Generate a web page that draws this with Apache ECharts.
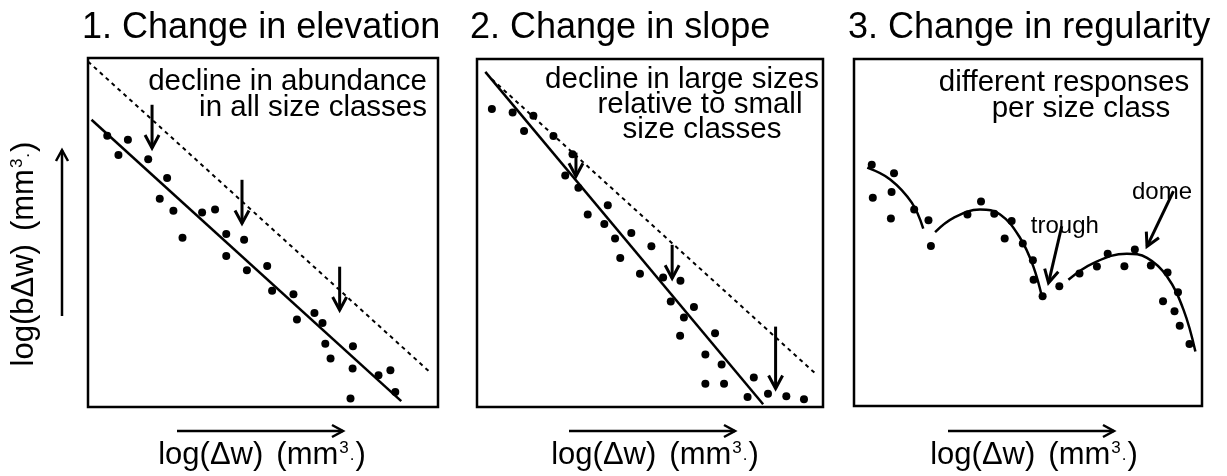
<!DOCTYPE html>
<html>
<head>
<meta charset="utf-8">
<script src="https://cdn.jsdelivr.net/npm/echarts@6/dist/echarts.min.js"></script>
<style>html,body{margin:0;padding:0;background:#fff}#c{width:1227px;height:476px}</style>
</head>
<body>
<div id="c"></div>
<script>
// ---------- data (axis units 0..100 in each panel) ----------
const titles = ['1. Change in elevation', '2. Change in slope', '3. Change in regularity'];
const xLabel = 'log(Δw)';
const yLabel = 'log(bΔw)';
const unitLabel = '(mm';

// Panel 1 : change in elevation
const p1Dots = [[5.5,77.7],[11.4,76.6],[8.7,72.2],[17.2,71.0],[22.6,65.6],[20.5,59.7],[24.4,56.2],[32.6,55.7],[36.3,56.6],[27.0,48.5],[39.5,49.6],[44.6,47.9],[39.5,43.3],[45.4,39.2],[51.2,40.4],[52.6,33.3],[58.7,32.3],[59.7,25.1],[64.7,26.9],[67.0,24.1],[67.8,18.1],[75.7,17.4],[69.3,13.9],[75.6,11.0],[83.0,9.1],[86.4,10.5],[87.8,4.3],[75.0,2.4]];
const p1Fit = [[1.0,82.3],[89.5,1.7]];
const p1Ref = [[0,99.0],[98.0,9.7]];
const p1Arrows = [[18.3,86.6,18.3,74.2],[44.0,65.1,44.0,52.6],[71.9,40.2,71.9,27.8]];
const p1Note = ['decline in abundance', 'in all size classes'];

// Panel 2 : change in slope
const p2Dots = [[4.3,85.6],[10.3,84.6],[16.3,83.7],[13.6,79.3],[22.1,77.9],[27.6,72.6],[25.5,66.5],[29.3,63.0],[37.8,58.0],[32.0,55.3],[36.8,52.6],[44.6,50.0],[39.9,48.4],[50.4,46.2],[41.4,42.8],[47.1,38.3],[53.8,37.2],[58.8,36.3],[56.0,30.3],[62.7,28.7],[59.8,25.7],[68.8,21.2],[58.7,20.5],[66.0,15.1],[70.7,12.2],[80.0,8.5],[66.0,6.7],[71.4,6.7],[78.2,2.9],[84.1,3.8],[89.4,3.1],[94.5,2.2]];
const p2Fit = [[2.4,96.3],[82.7,0.8]];
const p2Ref = [[4.3,94.2],[97.6,9.8]];
const p2Arrows = [[28.6,73.1,28.6,66.3],[56.4,46.6,56.4,37.0],[86.3,23.1,86.3,5.3]];
const p2Note = ['decline in large sizes', 'relative to small', 'size classes'];

// Panel 3 : change in regularity
const p3Dots = [[5.1,69.5],[11.5,67.1],[5.4,60.0],[10.8,61.7],[10.6,54.0],[17.3,56.6],[21.4,53.5],[22.1,46.1],[32.6,55.2],[36.5,58.9],[40.3,55.4],[45.3,53.3],[43.3,48.3],[48.5,46.8],[51.4,42.0],[51.6,36.4],[54.2,31.6],[59.0,34.5],[64.8,38.2],[69.8,40.2],[72.9,43.9],[77.7,40.3],[80.7,45.1],[85.3,40.5],[90.1,38.5],[93.1,32.8],[88.8,30.2],[92.1,27.3],[93.6,23.1],[96.4,17.9]];
const p3CurveA = [[3.8,68.7],[10.4,65.3],[16.6,58.6],[19.9,51.1]];
const p3CurveB = [[23.3,50.1],[28.6,54.2],[36.2,56.6],[42.0,55.2],[47.7,48.5],[51.5,40.3],[54.2,30.6]];
const p3CurveC = [[61.6,36.4],[68.8,41.2],[78.4,43.9],[84.2,42.7],[89.9,37.4],[94.7,27.7],[98.1,15.7]];
const p3Arrows = [[59.7,51.8,55.9,35.5],[91.8,61.9,84.2,46.0]];
const p3Note = ['different responses', 'per size class'];
const p3Labels = ['trough', 'dome'];
const p3LabelPos = [[60.6, 51.8], [88.5, 61.6]];

// ---------- layout ----------
const FONT = "'Liberation Sans', Arial, sans-serif";
const boxes = [
  {left: 88, top: 58, width: 350, height: 349},
  {left: 477, top: 59, width: 346, height: 348},
  {left: 854, top: 59, width: 348, height: 347}
];

const chart = echarts.init(document.getElementById('c'), null, {renderer: 'canvas'});

function arrowShape(x1, y1, x2, y2, L, W, lw) {
  const dx = x2 - x1, dy = y2 - y1;
  const len = Math.sqrt(dx * dx + dy * dy) || 1;
  const ux = dx / len, uy = dy / len;
  const nx = -uy, ny = ux;
  const bx = x2 - ux * L, by = y2 - uy * L;
  return [
    {type: 'line', shape: {x1: x1, y1: y1, x2: x2, y2: y2}, style: {stroke: '#000', lineWidth: lw}},
    {type: 'polyline', shape: {points: [[bx + nx * W, by + ny * W], [x2, y2], [bx - nx * W, by - ny * W]]},
     style: {stroke: '#000', lineWidth: lw, fill: null, lineJoin: 'miter'}}
  ];
}

function arrowSeries(data, idx) {
  return {
    type: 'custom', xAxisIndex: idx, yAxisIndex: idx, data: data,
    encode: {x: [0, 2], y: [1, 3]}, silent: true, clip: false,
    renderItem: function (params, api) {
      const a = api.coord([api.value(0), api.value(1)]);
      const b = api.coord([api.value(2), api.value(3)]);
      return {type: 'group', children: arrowShape(a[0], a[1], b[0], b[1], 13, 7, 3)};
    }
  };
}

function dots(data, idx) {
  return {type: 'scatter', xAxisIndex: idx, yAxisIndex: idx, data: data, symbol: 'circle', symbolSize: 8,
    itemStyle: {color: '#000', opacity: 1}, silent: true};
}
function line(data, idx, dashed, smooth) {
  return {type: 'line', xAxisIndex: idx, yAxisIndex: idx, data: data, symbol: 'none', smooth: smooth || false,
    lineStyle: {color: '#000', width: dashed ? 2 : 2.5, type: dashed ? [4, 4] : 'solid', opacity: 1},
    silent: true, clip: true};
}

const grids = boxes.map(b => ({left: b.left, top: b.top, width: b.width, height: b.height,
  show: true, borderColor: '#000', borderWidth: 2.5, backgroundColor: 'transparent'}));
const xAxes = boxes.map((b, i) => ({type: 'value', gridIndex: i, min: 0, max: 100, show: false}));
const yAxes = boxes.map((b, i) => ({type: 'value', gridIndex: i, min: 0, max: 100, show: false}));

// ---------- graphic texts / decorations ----------
const graphics = [];
function txt(t, x, y, size, align) {
  graphics.push({type: 'text', x: x, y: y, silent: true,
    style: {text: t, fill: '#000', font: size + 'px ' + FONT, textAlign: align || 'left', textVerticalAlign: 'middle'}});
}
// panel titles
txt(titles[0], 82, 28, 36);
txt(titles[1], 470, 28, 36);
txt(titles[2], 848, 28, 36);
// notes
txt(p1Note[0], 427, 82, 29.5, 'right');
txt(p1Note[1], 427, 108, 29.5, 'right');
txt(p2Note[0], 682, 80, 29.5, 'center');
txt(p2Note[1], 700, 105, 29.5, 'center');
txt(p2Note[2], 702, 130, 29.5, 'center');
txt(p3Note[0], 1064, 83, 29.5, 'center');
txt(p3Note[1], 1081, 109, 29.5, 'center');

const richUnits = {
  a: {fontSize: 31, fontFamily: FONT, fill: '#000'},
  b: {fontSize: 31, fontFamily: FONT, fill: '#000', padding: [0, 0, 0, 13]},
  c: {fontSize: 31, fontFamily: FONT, fill: '#000'},
  s: {fontSize: 17, fontFamily: FONT, fill: '#000', verticalAlign: 'top', padding: [0, 1, 12, 1]},
  d: {fontSize: 17, fontFamily: FONT, fill: '#000', padding: [0, 1, 0, 0]}
};
const unitText = '{a|' + '%L' + '}{b|' + unitLabel + '}{s|3}{d|.}{c|)}';
// x axis labels and arrows
const xCenters = [262, 655, 1034];
const arrowCenters = [260, 652, 1031];
xCenters.forEach((cx, i) => {
  graphics.push({type: 'text', x: cx, y: 455, silent: true,
    style: {text: unitText.replace('%L', xLabel), rich: richUnits,
      textAlign: 'center', textVerticalAlign: 'middle', fill: '#000'}});
  const ac = arrowCenters[i];
  graphics.push({type: 'group', silent: true, children: arrowShape(ac - 83, 431, ac + 83, 431, 11, 6, 2.5)});
});
// y axis label and arrow
graphics.push({type: 'text', x: 24, y: 254, rotation: Math.PI / 2, silent: true,
  style: {text: unitText.replace('%L', yLabel), rich: richUnits,
    textAlign: 'center', textVerticalAlign: 'middle', fill: '#000'}});
graphics.push({type: 'group', silent: true, children: arrowShape(62, 316, 62, 150, 11, 6, 2.5)});

// ---------- series ----------
const series = [
  line(p1Ref, 0, true), line(p1Fit, 0, false), dots(p1Dots, 0), arrowSeries(p1Arrows, 0),
  line(p2Ref, 1, true), line(p2Fit, 1, false), dots(p2Dots, 1), arrowSeries(p2Arrows, 1),
  line(p3CurveA, 2, false, 0.4), line(p3CurveB, 2, false, 0.4), line(p3CurveC, 2, false, 0.4),
  dots(p3Dots, 2), arrowSeries(p3Arrows, 2),
  {type: 'scatter', xAxisIndex: 2, yAxisIndex: 2, symbolSize: 0, silent: true,
    itemStyle: {opacity: 1, color: '#000'},
    data: p3LabelPos,
    label: {show: true, position: 'inside', fontSize: 24, fontFamily: FONT, color: '#000', opacity: 1,
      formatter: p => p3Labels[p.dataIndex]}}
];

chart.setOption({
  animation: false,
  backgroundColor: '#fff',
  grid: grids,
  xAxis: xAxes,
  yAxis: yAxes,
  graphic: graphics,
  series: series
});
</script>
</body>
</html>
